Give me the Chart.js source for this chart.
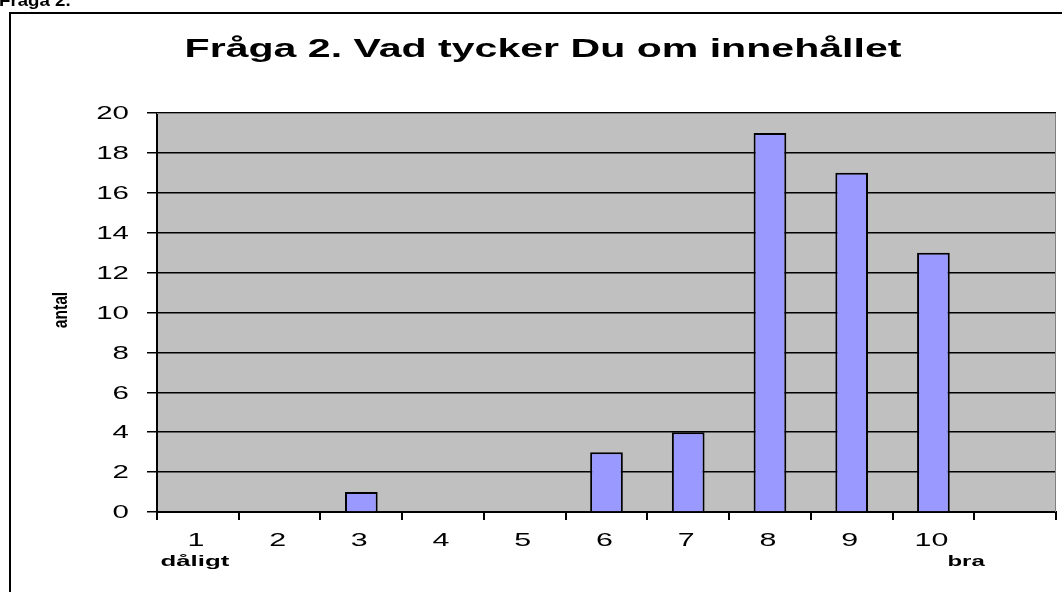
<!DOCTYPE html>
<html>
<head>
<meta charset="utf-8">
<script src="https://cdn.jsdelivr.net/npm/chart.js@4/dist/chart.umd.min.js"></script>
<style>
  html, body { margin: 0; padding: 0; background: #fff; }
  #wrap { width: 1062px; height: 592px; position: relative; }
</style>
</head>
<body>
<div id="wrap"><canvas id="c" width="1062" height="592"></canvas></div>
<script>
// svar per betyg, 1 = dåligt ... 10 = bra (sista kolumnen tom)
var categories = ['1', '2', '3', '4', '5', '6', '7', '8', '9', '10', ''];
var antal = [0, 0, 1, 0, 0, 3, 4, 19, 17, 13, 0];
var yTicks = [0, 2, 4, 6, 8, 10, 12, 14, 16, 18, 20];

var chartTitle = 'Fråga 2. Vad tycker Du om innehållet';
var pageHeading = 'Fråga 2.';

var FONT = '"Liberation Sans", Arial, sans-serif';

// the old spreadsheet picture has its text stretched sideways
function wideText(ctx, text, x, y, sx, align) {
  ctx.save();
  ctx.translate(x, y);
  ctx.scale(sx, 1);
  ctx.textAlign = align || 'center';
  ctx.fillText(text, 0, 0);
  ctx.restore();
}

// frame, gray plot area, title and labels
var excelLook = {
  id: 'excelLook',
  beforeDraw: function (chart) {
    var ctx = chart.ctx;
    var a = chart.chartArea;
    ctx.save();
    ctx.fillStyle = '#fff';
    ctx.fillRect(0, 0, chart.width, chart.height);

    ctx.fillStyle = '#000';
    ctx.font = 'bold 17px ' + FONT;
    ctx.textBaseline = 'alphabetic';
    wideText(ctx, pageHeading, -1, 6, 1.1, 'left');

    ctx.strokeStyle = '#000';
    ctx.lineWidth = 2;
    ctx.strokeRect(10, 13, 1070, 620);

    ctx.fillStyle = '#c0c0c0';
    ctx.fillRect(a.left, a.top, a.right - a.left, a.bottom - a.top);
    ctx.restore();
  },
  afterDraw: function (chart) {
    var ctx = chart.ctx;
    var a = chart.chartArea;
    var x = chart.scales.x;
    var y = chart.scales.y;
    ctx.save();
    ctx.fillStyle = '#000';
    ctx.textBaseline = 'alphabetic';
    ctx.font = 'bold 26px ' + FONT;
    wideText(ctx, chartTitle, 543, 57, 1.58);

    // y tick labels
    ctx.font = '19px ' + FONT;
    ctx.textBaseline = 'middle';
    yTicks.forEach(function (v) {
      wideText(ctx, String(v), 129, y.getPixelForValue(v) + 1, 1.55, 'right');
    });

    // x tick labels
    categories.forEach(function (c, i) {
      wideText(ctx, c, x.getPixelForValue(i) - 2, 541, 1.6);
    });

    ctx.textBaseline = 'alphabetic';
    ctx.font = 'bold 15px ' + FONT;
    wideText(ctx, 'dåligt', x.getPixelForValue(0) - 3, 566, 1.72);
    wideText(ctx, 'bra', x.getPixelForValue(9.4), 566, 1.6);

    // y axis title, narrow and rotated
    ctx.translate(67, 310);
    ctx.rotate(-Math.PI / 2);
    ctx.font = 'bold 20px ' + FONT;
    wideText(ctx, 'antal', 0, 0, 0.78);
    ctx.restore();

    // plot border
    ctx.save();
    ctx.strokeStyle = '#808080';
    ctx.lineWidth = 1;
    ctx.beginPath();
    ctx.moveTo(a.left, a.top + 0.5);
    ctx.lineTo(a.right - 0.5, a.top + 0.5);
    ctx.lineTo(a.right - 0.5, a.bottom);
    ctx.stroke();
    ctx.restore();
  }
};

var ctx = document.getElementById('c').getContext('2d');
var chart = new Chart(ctx, {
  type: 'bar',
  data: {
    labels: categories,
    datasets: [{
      data: antal,
      backgroundColor: '#9999ff',
      borderColor: '#000',
      borderWidth: 2,
      categoryPercentage: 1,
      barPercentage: 0.4
    }]
  },
  options: {
    responsive: false,
    animation: false,
    devicePixelRatio: 1,
    layout: { padding: { left: 0, right: 6, top: 113, bottom: 0 } },
    plugins: {
      legend: { display: false },
      tooltip: { enabled: false },
      title: { display: false }
    },
    scales: {
      x: {
        grid: {
          offset: true,
          drawOnChartArea: false,
          color: '#000',
          lineWidth: 2,
          tickLength: 8,
          tickColor: '#000'
        },
        border: { color: '#000', width: 2 },
        ticks: { display: false, autoSkip: false },
        afterFit: function (scale) { scale.height = 80; }
      },
      y: {
        min: 0,
        max: 20,
        afterBuildTicks: function (scale) {
          scale.ticks = yTicks.map(function (v) { return { value: v }; });
        },
        grid: {
          color: '#000',
          lineWidth: 1.5,
          tickLength: 10,
          tickColor: '#000'
        },
        border: { color: '#000', width: 2 },
        ticks: { display: false },
        afterFit: function (scale) { scale.width = 157; }
      }
    }
  },
  plugins: [excelLook]
});
</script>
</body>
</html>
